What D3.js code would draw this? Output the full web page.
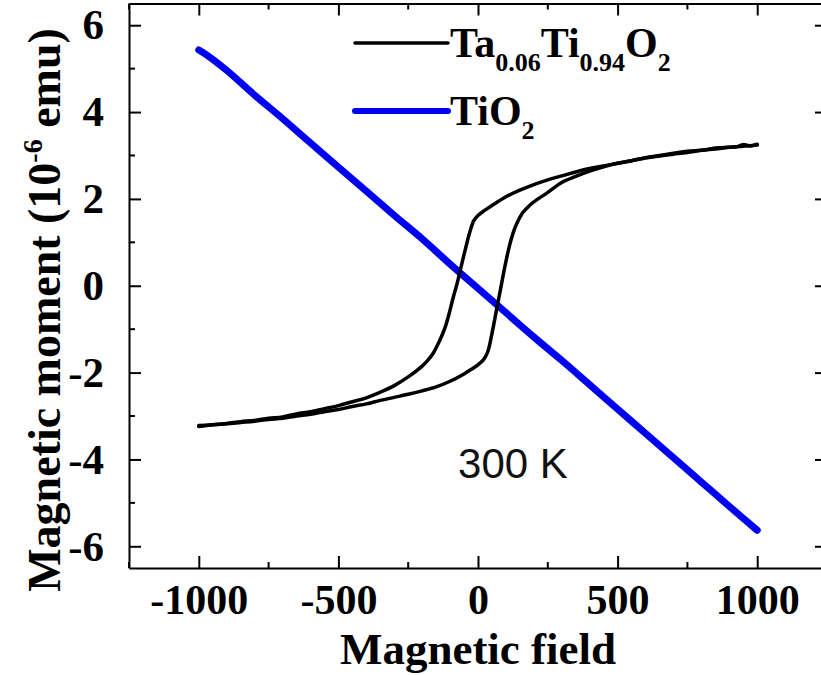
<!DOCTYPE html>
<html><head><meta charset="utf-8">
<script src="https://cdn.jsdelivr.net/npm/d3@7"></script>
<style>body{margin:0;background:#fff}svg{display:block}</style>
</head><body>
<svg id="c" width="821" height="675"></svg>
<script>
// ---- data ----
const descField = [1000, 975, 950, 925, 900, 850, 800, 750, 700, 650, 600, 550, 500, 450, 400, 350, 300, 250, 200, 150, 100, 75, 50, 25, 0, -15, -30, -45, -60, -75, -90, -105, -120, -140, -160, -180, -200, -250, -300, -350, -400, -450, -500, -550, -600, -650, -700, -750, -800, -850, -900, -950, -1000];
const descMoment = [3.26, 3.22, 3.25, 3.20, 3.19, 3.17, 3.12, 3.10, 3.05, 3.00, 2.95, 2.88, 2.82, 2.76, 2.70, 2.62, 2.53, 2.44, 2.33, 2.20, 2.05, 1.95, 1.85, 1.74, 1.62, 1.50, 1.22, 0.85, 0.45, 0.05, -0.30, -0.68, -1.00, -1.30, -1.55, -1.72, -1.85, -2.10, -2.30, -2.45, -2.58, -2.67, -2.76, -2.83, -2.90, -2.95, -3.02, -3.05, -3.10, -3.13, -3.17, -3.20, -3.22];
const ascField = [-1000, -975, -950, -900, -850, -800, -750, -700, -650, -600, -550, -500, -450, -400, -350, -300, -250, -200, -150, -100, -50, -25, 0, 20, 35, 50, 65, 80, 95, 110, 125, 140, 160, 180, 200, 250, 300, 350, 400, 450, 500, 550, 600, 650, 700, 750, 800, 850, 900, 950, 1000];
const ascMoment = [-3.24, -3.22, -3.20, -3.18, -3.15, -3.12, -3.08, -3.05, -3.00, -2.96, -2.90, -2.85, -2.78, -2.72, -2.64, -2.57, -2.50, -2.42, -2.33, -2.20, -2.03, -1.93, -1.82, -1.70, -1.52, -1.10, -0.60, -0.10, 0.40, 0.85, 1.20, 1.45, 1.68, 1.82, 1.93, 2.15, 2.38, 2.52, 2.64, 2.74, 2.82, 2.88, 2.94, 2.99, 3.03, 3.07, 3.12, 3.15, 3.19, 3.21, 3.24];
const tioField = [-1000, -975, -900, -800, -700, -600, -500, -400, -300, -200, -100, 0, 100, 200, 300, 400, 500, 600, 700, 800, 900, 1000];
const tioMoment = [5.43, 5.33, 4.96, 4.39, 3.85, 3.29, 2.73, 2.18, 1.62, 1.08, 0.50, -0.06, -0.62, -1.18, -1.72, -2.28, -2.84, -3.40, -3.96, -4.52, -5.08, -5.63];
const xTicks = [-1000, -500, 0, 500, 1000];
const xMinor = [-1250, -750, -250, 250, 750, 1250];
const yTicks = [-6, -4, -2, 0, 2, 4, 6];
const yMinor = [-5, -3, -1, 1, 3, 5];
const xDomain = [-1250, 1250];
const yDomain = [-6.5, 6.5];

// ---- layout ----
const svg = d3.select('#c');
const x = d3.scaleLinear().domain(xDomain).range([129, 827]);
const y = d3.scaleLinear().domain(yDomain).range([568, 3.5]);
const serif = '"Liberation Serif","Times New Roman",serif';
const fmt = d => String(d); // plain hyphen-minus like the reference

// data lines
const line = d3.line().x(d => x(d[0])).y(d => y(d[1])).curve(d3.curveCatmullRom.alpha(0.5));
svg.append('path').datum(d3.zip(tioField, tioMoment)).attr('d', line)
  .attr('fill', 'none').attr('stroke', '#0000f0').attr('stroke-width', 7).attr('stroke-linecap', 'round');
svg.append('path').datum(d3.zip(descField, descMoment)).attr('d', line)
  .attr('fill', 'none').attr('stroke', '#000').attr('stroke-width', 3.5).attr('stroke-linecap', 'round');
svg.append('path').datum(d3.zip(ascField, ascMoment)).attr('d', line)
  .attr('fill', 'none').attr('stroke', '#000').attr('stroke-width', 3.5).attr('stroke-linecap', 'round');

// axes
function styleAxis(g) {
  g.select('.domain').attr('stroke', '#000').attr('stroke-width', 2);
  g.selectAll('.tick line').attr('stroke', '#000').attr('stroke-width', 2);
}
const gB = svg.append('g').attr('transform', `translate(0,${y(yDomain[0])})`)
  .call(d3.axisBottom(x).tickValues(xTicks).tickSizeInner(-12).tickSizeOuter(0).tickPadding(16).tickFormat(fmt));
styleAxis(gB);
gB.selectAll('.tick text').attr('font-family', serif).attr('font-weight', 'bold').attr('font-size', 42).attr('fill', '#000');
gB.append('g').selectAll('line').data(xMinor).join('line')
  .attr('x1', d => x(d)).attr('x2', d => x(d)).attr('y1', 0).attr('y2', -6).attr('stroke', '#000').attr('stroke-width', 2);

const gT = svg.append('g').attr('transform', `translate(0,${y(yDomain[1])})`)
  .call(d3.axisTop(x).tickValues(xTicks).tickSizeInner(-12).tickSizeOuter(0).tickFormat(''));
styleAxis(gT);
gT.append('g').selectAll('line').data(xMinor).join('line')
  .attr('x1', d => x(d)).attr('x2', d => x(d)).attr('y1', 0).attr('y2', 6).attr('stroke', '#000').attr('stroke-width', 2);

const gL = svg.append('g').attr('transform', `translate(${x(xDomain[0])},0)`)
  .call(d3.axisLeft(y).tickValues(yTicks).tickSizeInner(-12).tickSizeOuter(0).tickPadding(25).tickFormat(fmt));
styleAxis(gL);
gL.selectAll('.tick text').attr('font-family', serif).attr('font-weight', 'bold').attr('font-size', 43).attr('fill', '#000');
gL.append('g').selectAll('line').data(yMinor).join('line')
  .attr('y1', d => y(d)).attr('y2', d => y(d)).attr('x1', 0).attr('x2', 6).attr('stroke', '#000').attr('stroke-width', 2);

const gR = svg.append('g').attr('transform', `translate(${x(xDomain[1])},0)`)
  .call(d3.axisRight(y).tickValues(yTicks).tickSizeInner(-12).tickSizeOuter(0).tickFormat(''));
styleAxis(gR);
gR.append('g').selectAll('line').data(yMinor).join('line')
  .attr('y1', d => y(d)).attr('y2', d => y(d)).attr('x1', 0).attr('x2', -6).attr('stroke', '#000').attr('stroke-width', 2);

// axis titles
svg.append('text').attr('x', 478).attr('y', 664).attr('text-anchor', 'middle')
  .attr('font-family', serif).attr('font-weight', 'bold').attr('font-size', 45).text('Magnetic field');
const yt = svg.append('text').attr('transform', 'translate(60,310) rotate(-90)').attr('text-anchor', 'middle')
  .attr('font-family', serif).attr('font-weight', 'bold').attr('font-size', 46);
yt.append('tspan').text('Magnetic moment (10');
yt.append('tspan').attr('font-size', 28).attr('dy', -18).text('-6');
yt.append('tspan').attr('dy', 18).text(' emu)');

// legend
const legend = [
  {color: '#000', width: 3.5, parts: [['Ta', 0], ['0.06', 1], ['Ti', 0], ['0.94', 1], ['O', 0], ['2', 1]]},
  {color: '#0000f0', width: 6, parts: [['Ti', 0], ['O', 0], ['2', 1]]}
];
legend.forEach((L, i) => {
  const ly = 43 + i * 68;
  svg.append('line').attr('x1', 355).attr('x2', 448).attr('y1', ly).attr('y2', ly)
    .attr('stroke', L.color).attr('stroke-width', L.width).attr('stroke-linecap', 'round');
  const t = svg.append('text').attr('x', 450).attr('y', ly + 14)
    .attr('font-family', serif).attr('font-weight', 'bold').attr('font-size', 42);
  let prevSub = 0;
  L.parts.forEach(([s, sub]) => {
    const dy = (sub - prevSub) * 14;
    t.append('tspan').attr('dy', dy).attr('font-size', sub ? 26 : 42).text(s);
    prevSub = sub;
  });
});

// annotation
svg.append('text').attr('x', 513).attr('y', 478).attr('text-anchor', 'middle')
  .attr('font-family', '"Liberation Sans",Arial,sans-serif').attr('font-size', 42).attr('fill', '#111').text('300 K');
</script>
</body></html>
